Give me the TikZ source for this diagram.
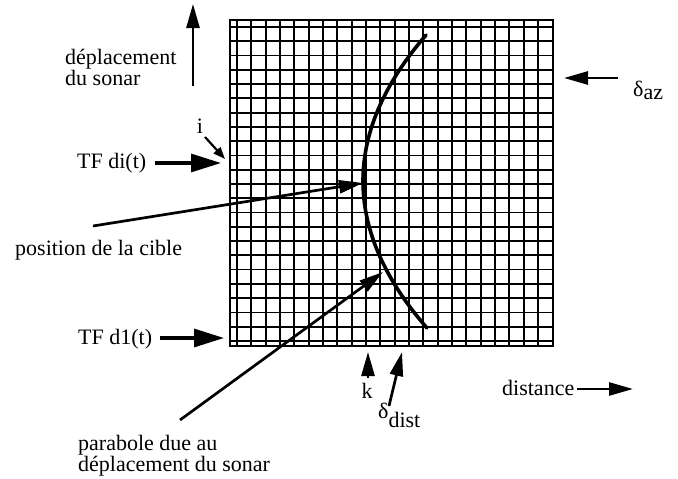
\documentclass[tikz,border=0pt]{standalone}
\usepackage{fontspec}
\setmainfont{Liberation Serif}
\usetikzlibrary{arrows.meta,positioning,calc}

\begin{document}
\begin{tikzpicture}[x=1pt, y=-1pt,
  lbl/.style={font=\fontsize{22}{21}\selectfont, inner sep=0pt, align=left},
  grd/.style={line width=1.8pt},
  frame/.style={line width=2.8pt},
  parab/.style={line width=3.6pt, line cap=round},
  bigarr/.style={-{Triangle[length=30pt,width=18pt]}, line width=3.2pt},
  arr/.style={-{Triangle[length=24pt,width=13pt]}, line width=2.7pt},
  smallarr/.style={-{Triangle[length=12pt,width=9pt]}, line width=2.2pt}
]
  \useasboundingbox (0,0) rectangle (678,479);

  % the grid
  \foreach \i in {0,...,21}
    \draw[grd] ({237+14.33*\i},20) -- ({237+14.33*\i},346);
  \foreach \j in {0,...,22}
    \draw[grd] (230,{27+14.27*\j}) -- (553,{27+14.27*\j});
  \draw[frame] (230,20) rectangle (553,346);

  % the parabola
  \draw[parab] plot[domain=-146:147, samples=60, smooth]
    ({363+(\x/18.38)*(\x/18.38)},{181+\x});

  % labels
  \node[lbl, anchor=north west] (sonar) at (65,49) {déplacement\\du sonar};
  \node[lbl, anchor=base] (idx) at (200,133) {i};
  \node[lbl, anchor=base west] (tfi) at (77,168) {TF di(t)};
  \node[lbl, anchor=base west] (tfone) at (78,344) {TF d1(t)};
  \node[lbl, anchor=base west] (cible) at (15,255) {position de la cible};
  \node[lbl, anchor=north west] (parlbl) at (78,435) {parabole due au\\déplacement du sonar};
  \node[lbl, anchor=base] (kidx) at (367,398) {k};
  \node[lbl, anchor=base west] (ddist) at (378,418) {δ\raisebox{-9pt}{dist}};
  \node[lbl, anchor=base west] (dist) at (502,395) {distance};
  \node[lbl, anchor=base west] (daz) at (633,96) {δ\raisebox{-3pt}{az}};

  % arrow ends
  \coordinate (sonar-s) at (193,86);
  \coordinate (sonar-e) at (193,4);
  \coordinate (idx-s) at (205,137);
  \coordinate (idx-e) at (225,159);
  \coordinate (tfi-s) at (155,163);
  \coordinate (tfi-e) at (221,163);
  \coordinate (tfone-s) at (160,338);
  \coordinate (tfone-e) at (224,338);
  \coordinate (cible-s) at (93,226);
  \coordinate (cible-e) at (363,183);
  \coordinate (parlbl-s) at (180,420);
  \coordinate (parlbl-e) at (383,272);
  \coordinate (kidx-s) at (368,378);
  \coordinate (kidx-e) at (368,352);
  \coordinate (ddist-s) at (389,406);
  \coordinate (ddist-e) at (402,352);
  \coordinate (dist-s) at (577,389);
  \coordinate (dist-e) at (633,389);
  \coordinate (daz-s) at (618,78);
  \coordinate (daz-e) at (564,78);

  % arrows
  \draw[arr] (sonar-s) -- (sonar-e);
  \draw[smallarr] (idx-s) -- (idx-e);
  \draw[bigarr] (tfi-s) -- (tfi-e);
  \draw[bigarr] (tfone-s) -- (tfone-e);
  \draw[arr] (cible-s) -- (cible-e);
  \draw[arr] (parlbl-s) -- (parlbl-e);
  \draw[arr] (kidx-s) -- (kidx-e);
  \draw[arr] (ddist-s) -- (ddist-e);
  \draw[arr] (dist-s) -- (dist-e);
  \draw[arr] (daz-s) -- (daz-e);
\end{tikzpicture}
\end{document}
